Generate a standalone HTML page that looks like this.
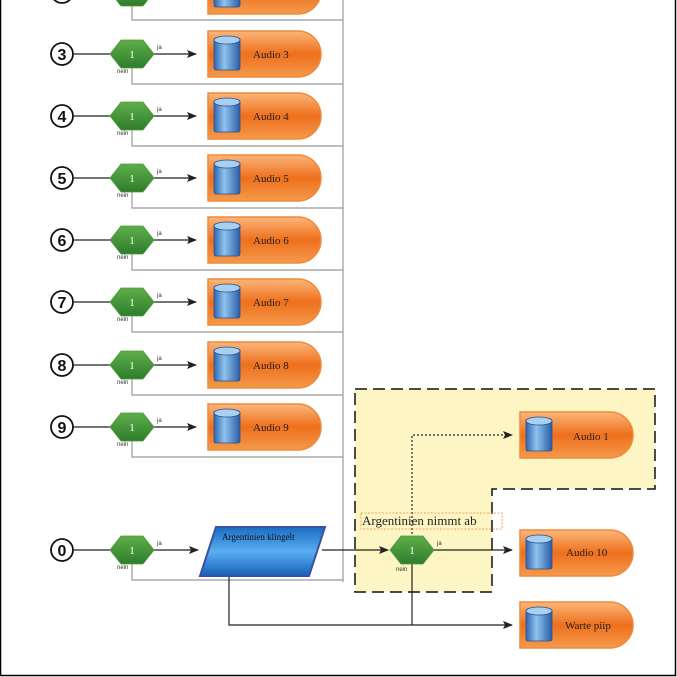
<!DOCTYPE html>
<html><head><meta charset="utf-8"><style>
html,body{margin:0;padding:0;background:#fff}
svg{display:block}
text{font-family:"Liberation Serif",serif}
text.num{font-family:"Liberation Sans",sans-serif;font-size:16px;font-weight:bold}
text.sm{font-family:"Liberation Sans",sans-serif;font-size:6px;fill:#333}
</style></head><body>
<svg width="677" height="677" viewBox="0 0 677 677" xmlns="http://www.w3.org/2000/svg">
<defs>
<linearGradient id="og" x1="0" y1="0" x2="0" y2="1">
<stop offset="0" stop-color="#fbb67a"/><stop offset="0.5" stop-color="#ee6f1c"/><stop offset="1" stop-color="#f49a4c"/></linearGradient>
<linearGradient id="cg" x1="0" y1="0" x2="1" y2="0">
<stop offset="0" stop-color="#2f64b0"/><stop offset="0.4" stop-color="#8fc3ec"/><stop offset="1" stop-color="#2a5ea8"/></linearGradient>
<linearGradient id="gg" x1="0" y1="0" x2="0" y2="1">
<stop offset="0" stop-color="#5fae4a"/><stop offset="1" stop-color="#2f7d2c"/></linearGradient>
<linearGradient id="bg" x1="0" y1="0" x2="0" y2="1">
<stop offset="0" stop-color="#1a6cc4"/><stop offset="0.5" stop-color="#5aaef0"/><stop offset="1" stop-color="#1560b8"/></linearGradient>
<marker id="ar" markerWidth="10" markerHeight="8" refX="9" refY="4" orient="auto" markerUnits="userSpaceOnUse"><path d="M0,0 L10,4 L0,8 L2,4z" fill="#222"/></marker>
<g id="box">
<path d="M0,0 H90 A23,23 0 0 1 90,46 H0 Z" fill="url(#og)" stroke="#f08a3a" stroke-width="1.5"/>
<rect x="6" y="7" width="26" height="32" rx="2" fill="url(#cg)" stroke="#2a5090" stroke-width="0.8"/>
<ellipse cx="19" cy="9" rx="13" ry="4" fill="#a8d0f0" stroke="#2a5090" stroke-width="0.8"/>
</g>
<g id="dia">
<polygon points="-22,0 -11,-14 11,-14 22,0 11,14 -11,14" fill="url(#gg)" stroke="#4a9a3a" stroke-width="0.8"/>
<text x="0" y="4" font-size="11" fill="#fff" text-anchor="middle">1</text>
</g>
</defs>
<rect x="0.5" y="-2" width="675" height="677.5" fill="none" stroke="#000" stroke-width="1.5"/>
<path d="M355,389 H655 V489 H492 V592 H355 Z" fill="#fdf5c4" stroke="#111" stroke-width="1.5" stroke-dasharray="12,6"/>
<path d="M343,0 V582" stroke="#999" stroke-width="1.2" fill="none"/>
<use href="#box" x="208" y="-32"/>
<path d="M132,6 V20 H343" stroke="#999" stroke-width="1.2" fill="none"/>
<g stroke="#999" stroke-width="1.2" fill="none">
<path d="M132,66 V84 H343"/><path d="M132,128 V146 H343"/><path d="M132,190 V208 H343"/>
<path d="M132,252 V270 H343"/><path d="M132,314 V332 H343"/><path d="M132,377 V395 H343"/>
<path d="M132,439 V457 H343"/><path d="M132,562 V580 H343"/>
</g>
<g stroke="#222" stroke-width="1.2" fill="none">
<path d="M74,54 H110"/><path d="M154,54 H196" marker-end="url(#ar)"/>
<path d="M74,116 H110"/><path d="M154,116 H196" marker-end="url(#ar)"/>
<path d="M74,178 H110"/><path d="M154,178 H196" marker-end="url(#ar)"/>
<path d="M74,240 H110"/><path d="M154,240 H196" marker-end="url(#ar)"/>
<path d="M74,302 H110"/><path d="M154,302 H196" marker-end="url(#ar)"/>
<path d="M74,365 H110"/><path d="M154,365 H196" marker-end="url(#ar)"/>
<path d="M74,427 H110"/><path d="M154,427 H196" marker-end="url(#ar)"/>
<path d="M74,550 H110"/><path d="M154,550 H198" marker-end="url(#ar)"/>
<path d="M322,550 H388" marker-end="url(#ar)"/>
<path d="M434,550 H512" marker-end="url(#ar)"/>
<path d="M229,576 V625 H512" marker-end="url(#ar)"/>
<path d="M412,562 V625"/>
<path d="M412,538 V435 H512" stroke-dasharray="2,2" marker-end="url(#ar)"/>
</g>
<g fill="#fff" stroke="#111" stroke-width="1.8">
<circle cx="62" cy="-8" r="11"/>
<circle cx="62" cy="54" r="11"/><circle cx="62" cy="116" r="11"/><circle cx="62" cy="178" r="11"/>
<circle cx="62" cy="240" r="11"/><circle cx="62" cy="302" r="11"/><circle cx="62" cy="365" r="11"/>
<circle cx="62" cy="427" r="11"/><circle cx="62" cy="550" r="11"/>
</g>
<g text-anchor="middle" fill="#111">
<text class="num" x="62" y="60">3</text><text class="num" x="62" y="122">4</text><text class="num" x="62" y="184">5</text><text class="num" x="62" y="246">6</text>
<text class="num" x="62" y="308">7</text><text class="num" x="62" y="371">8</text><text class="num" x="62" y="433">9</text><text class="num" x="62" y="556">0</text>
</g>
<use href="#dia" x="132" y="-8"/>
<use href="#dia" x="132" y="54"/><use href="#dia" x="132" y="116"/><use href="#dia" x="132" y="178"/>
<use href="#dia" x="132" y="240"/><use href="#dia" x="132" y="302"/><use href="#dia" x="132" y="365"/>
<use href="#dia" x="132" y="427"/><use href="#dia" x="132" y="550"/><use href="#dia" x="412" y="550"/>
<g>
<text class="sm" x="157" y="49">ja</text><text class="sm" x="117" y="73">nein</text>
<text class="sm" x="157" y="111">ja</text><text class="sm" x="117" y="135">nein</text>
<text class="sm" x="157" y="173">ja</text><text class="sm" x="117" y="197">nein</text>
<text class="sm" x="157" y="235">ja</text><text class="sm" x="117" y="259">nein</text>
<text class="sm" x="157" y="297">ja</text><text class="sm" x="117" y="321">nein</text>
<text class="sm" x="157" y="360">ja</text><text class="sm" x="117" y="384">nein</text>
<text class="sm" x="157" y="422">ja</text><text class="sm" x="117" y="446">nein</text>
<text class="sm" x="157" y="545">ja</text><text class="sm" x="117" y="569">nein</text>
<text class="sm" x="437" y="545">ja</text><text class="sm" x="396" y="571">nein</text>
</g>
<use href="#box" x="208" y="31"/><use href="#box" x="208" y="93"/><use href="#box" x="208" y="155"/>
<use href="#box" x="208" y="217"/><use href="#box" x="208" y="279"/><use href="#box" x="208" y="342"/>
<use href="#box" x="208" y="404"/>
<use href="#box" x="520" y="412"/><use href="#box" x="520" y="530"/><use href="#box" x="520" y="602"/>
<g font-size="11" fill="#222">
<text x="253" y="58">Audio 3</text><text x="253" y="120">Audio 4</text><text x="253" y="182">Audio 5</text>
<text x="253" y="244">Audio 6</text><text x="253" y="306">Audio 7</text><text x="253" y="369">Audio 8</text>
<text x="253" y="431">Audio 9</text>
<text x="573" y="440">Audio 1</text><text x="566" y="556">Audio 10</text><text x="565" y="629">Warte piip</text>
</g>
<polygon points="216,527 325,527 309,576 200,576" fill="url(#bg)" stroke="#3a50a0" stroke-width="2"/>
<text x="222" y="540" font-size="9" fill="#111">Argentinien klingelt</text>
<rect x="361" y="513" width="141" height="16" fill="none" stroke="#f08a3a" stroke-width="0.8" stroke-dasharray="2,1.5"/>
<text x="362" y="525" font-size="13" fill="#222">Argentinien nimmt ab</text>
</svg>
</body></html>
